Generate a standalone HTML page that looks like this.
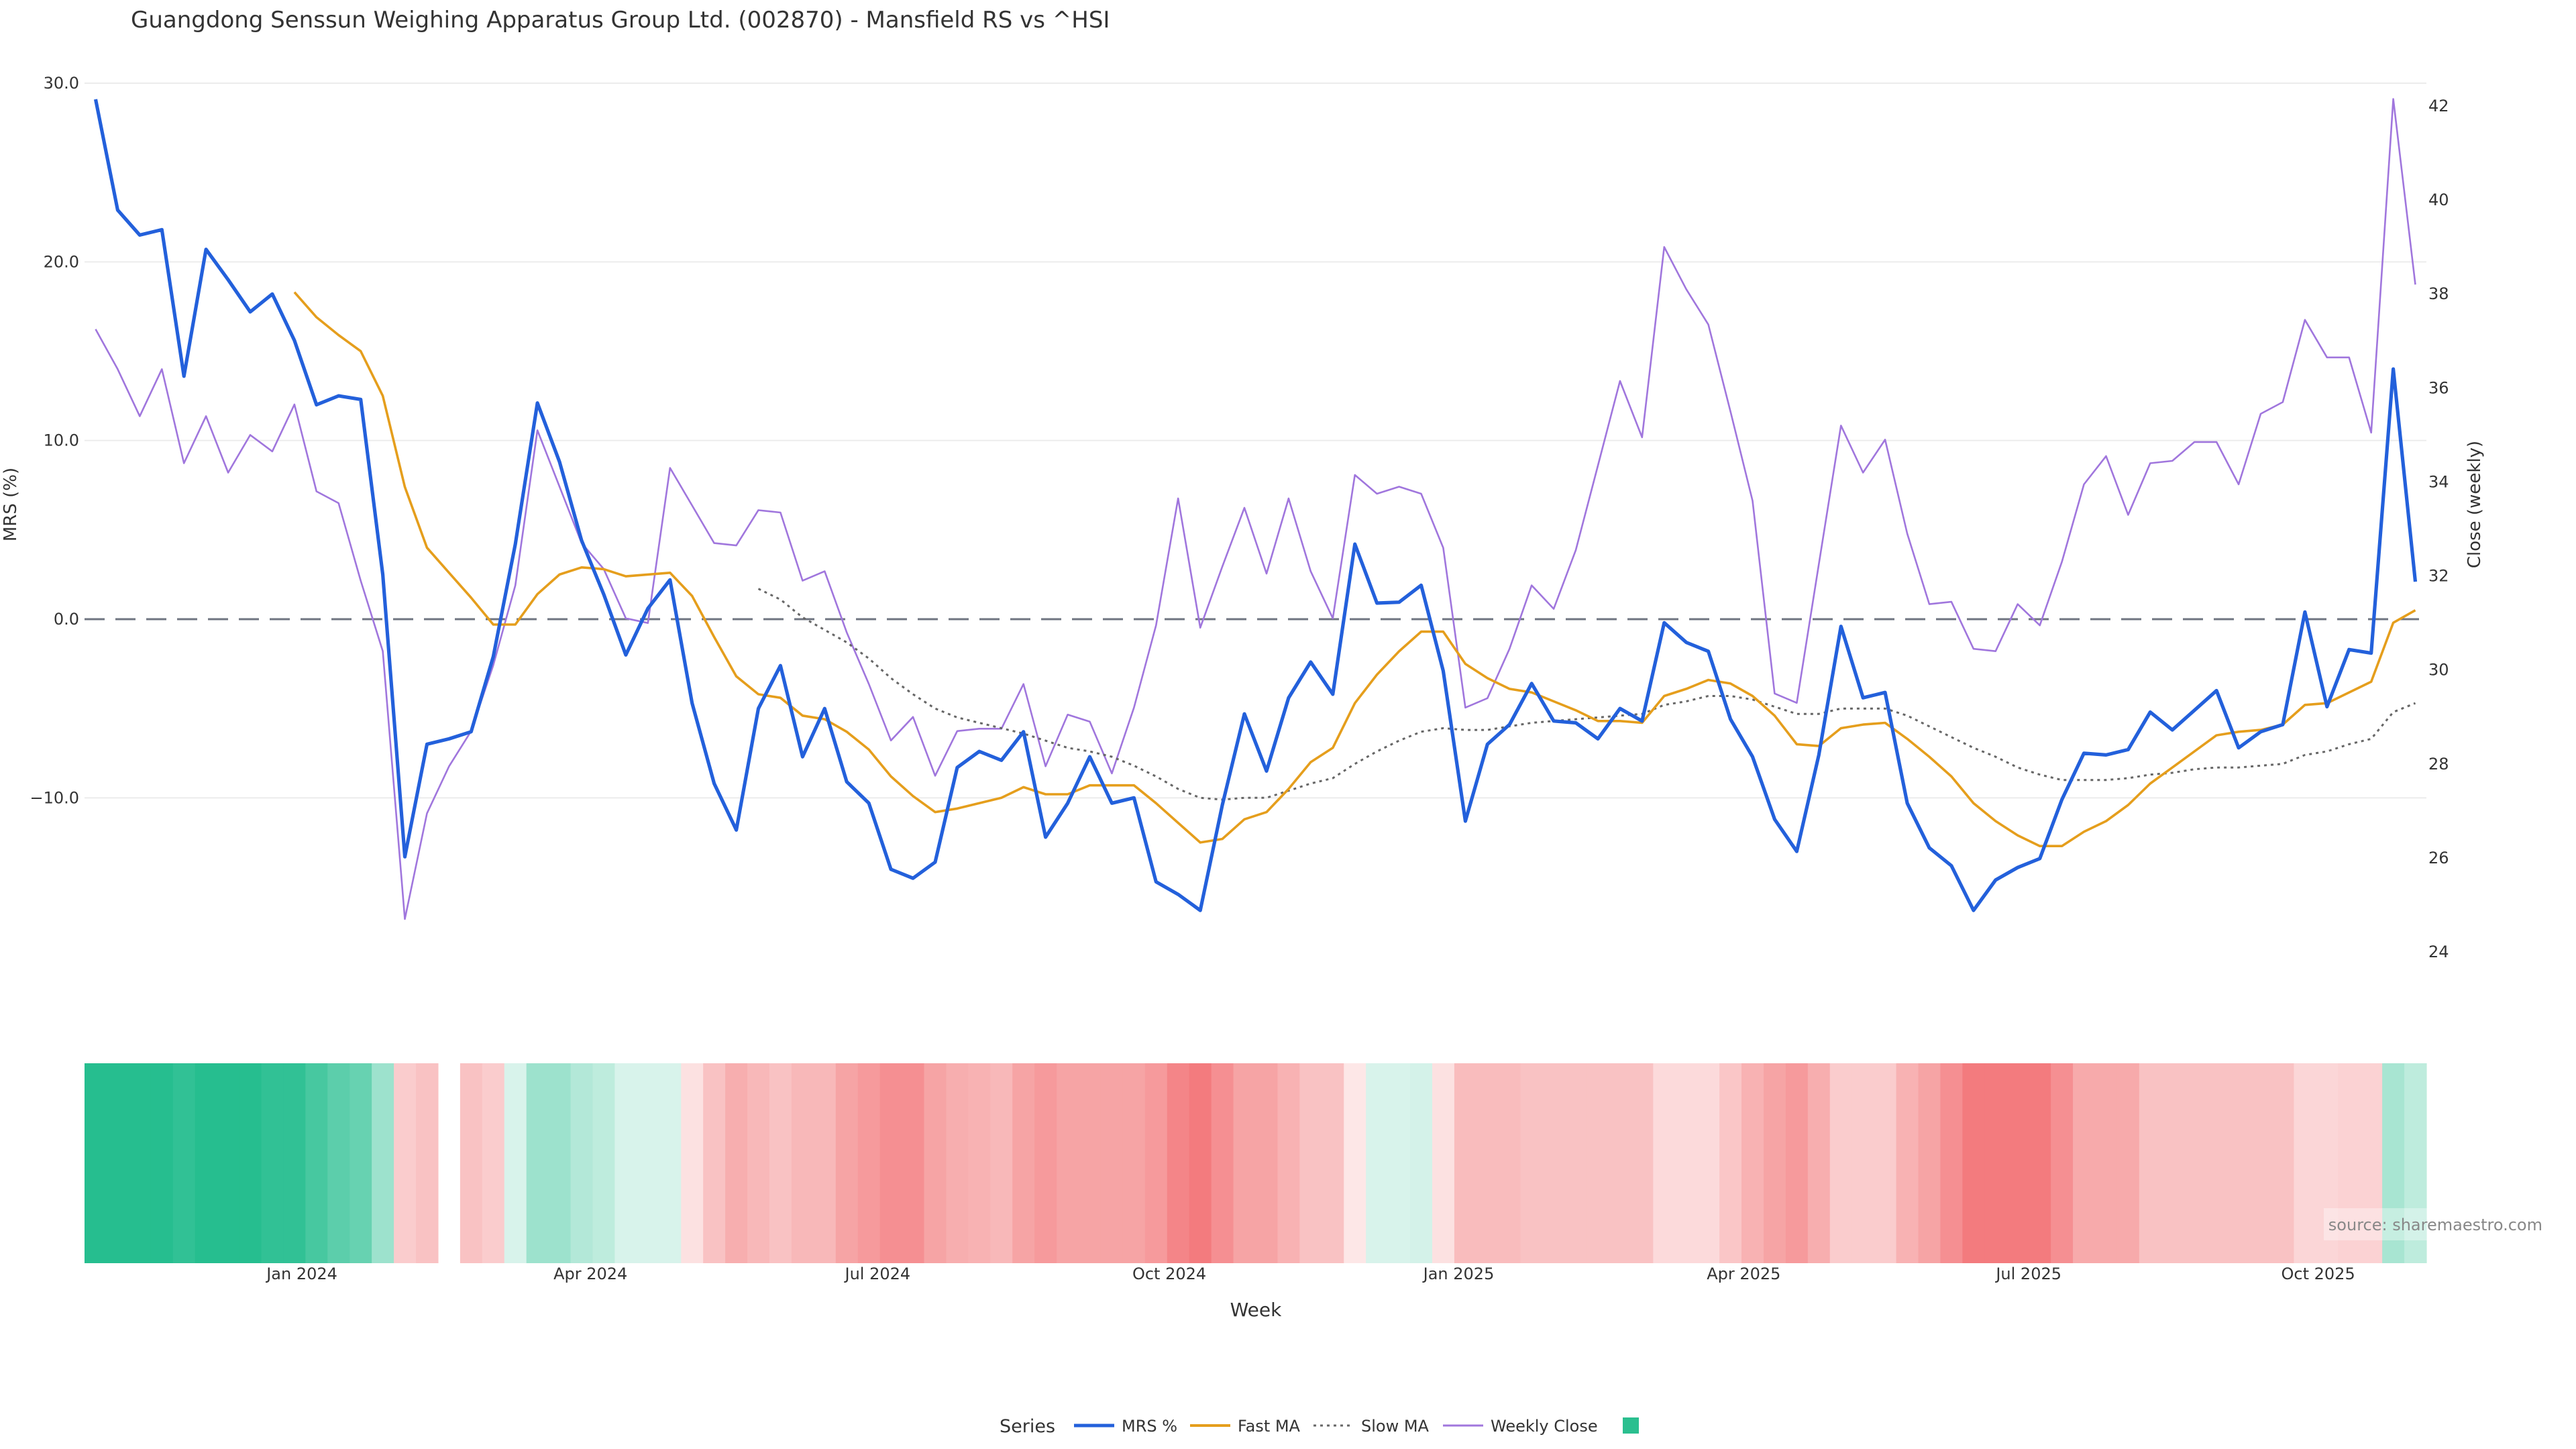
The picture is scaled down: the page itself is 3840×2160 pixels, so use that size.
<!DOCTYPE html>
<html><head><meta charset="utf-8"><title>Mansfield RS chart</title>
<style>
html,body{margin:0;padding:0;background:#fff;}
svg{display:block;font-family:"DejaVu Sans","Liberation Sans",sans-serif;}
</style></head>
<body>
<svg id="chart" xmlns="http://www.w3.org/2000/svg" width="3840" height="2160" viewBox="0 0 3840 2160">
<rect x="0" y="0" width="3840" height="2160" fill="#fff"/>
<text x="195" y="41" font-size="34" fill="#333">Guangdong Senssun Weighing Apparatus Group Ltd. (002870) - Mansfield RS vs ^HSI</text>
<g id="grid"></g>
<g id="heat"></g>
<g id="series"></g>
<g id="axes"></g>
<text transform="translate(24,752) rotate(-90)" text-anchor="middle" font-size="26" fill="#333">MRS (%)</text>
<text transform="translate(3697,752) rotate(-90)" text-anchor="middle" font-size="26" fill="#333">Close (weekly)</text>
<text x="1872" y="1962" text-anchor="middle" font-size="28" fill="#333">Week</text>
<rect x="3464" y="1801" width="326" height="48" fill="#fff" fill-opacity="0.35"/>
<text x="3790" y="1834" text-anchor="end" font-size="24" fill="#888">source: sharemaestro.com</text>
<g>
<text x="1490" y="2135" font-size="27" fill="#333">Series</text>
<g><line x1="1601" y1="2125" x2="1661" y2="2125" stroke="#2360db" stroke-width="5"/><text x="1672" y="2134" font-size="24" fill="#333">MRS %</text></g>
<g><line x1="1774" y1="2125" x2="1834" y2="2125" stroke="#e59e1c" stroke-width="4"/><text x="1845" y="2134" font-size="24" fill="#333">Fast MA</text></g>
<g><line x1="1958" y1="2125" x2="2013" y2="2125" stroke="#666" stroke-width="3" stroke-dasharray="4 6"/><text x="2029" y="2134" font-size="24" fill="#333">Slow MA</text></g>
<g><line x1="2151" y1="2125" x2="2211" y2="2125" stroke="#a076dd" stroke-width="3"/><text x="2222" y="2134" font-size="24" fill="#333">Weekly Close</text></g>
<rect x="2419" y="2113" width="24" height="24" fill="#2bbf8f"/>
</g>
</svg>
<script>
const mrs = [29.1,22.9,21.5,21.8,13.6,20.7,19.0,17.2,18.2,15.6,12.0,12.5,12.3,2.5,-13.3,-7.0,-6.7,-6.3,-2.1,4.2,12.1,8.8,4.4,1.4,-2.0,0.6,2.2,-4.7,-9.2,-11.8,-5.0,-2.6,-7.7,-5.0,-9.1,-10.3,-14.0,-14.5,-13.6,-8.3,-7.4,-7.9,-6.3,-12.2,-10.3,-7.7,-10.3,-10.0,-14.7,-15.4,-16.3,-10.4,-5.3,-8.5,-4.4,-2.4,-4.2,4.2,0.9,0.95,1.9,-2.9,-11.3,-7.0,-5.9,-3.6,-5.7,-5.8,-6.7,-5.0,-5.7,-0.2,-1.3,-1.8,-5.6,-7.7,-11.2,-13.0,-7.6,-0.4,-4.4,-4.1,-10.3,-12.8,-13.8,-16.3,-14.6,-13.9,-13.4,-10.1,-7.5,-7.6,-7.3,-5.2,-6.2,-5.1,-4.0,-7.2,-6.3,-5.9,0.4,-4.9,-1.7,-1.9,14.0,2.1];
const fastMA = [null,null,null,null,null,null,null,null,null,18.3,16.9,15.9,15.0,12.5,7.4,4.0,2.6,1.2,-0.3,-0.3,1.4,2.5,2.9,2.8,2.4,2.5,2.6,1.3,-1.0,-3.2,-4.2,-4.4,-5.4,-5.6,-6.3,-7.3,-8.8,-9.9,-10.8,-10.6,-10.3,-10.0,-9.4,-9.8,-9.8,-9.3,-9.3,-9.3,-10.3,-11.4,-12.5,-12.3,-11.2,-10.8,-9.5,-8.0,-7.2,-4.7,-3.1,-1.8,-0.7,-0.7,-2.5,-3.3,-3.9,-4.1,-4.6,-5.1,-5.7,-5.7,-5.8,-4.3,-3.9,-3.4,-3.6,-4.3,-5.4,-7.0,-7.1,-6.1,-5.9,-5.8,-6.7,-7.7,-8.8,-10.3,-11.3,-12.1,-12.7,-12.7,-11.9,-11.3,-10.4,-9.2,-8.3,-7.4,-6.5,-6.3,-6.2,-5.9,-4.8,-4.7,-4.1,-3.5,-0.2,0.5];
const slowMA = [null,null,null,null,null,null,null,null,null,null,null,null,null,null,null,null,null,null,null,null,null,null,null,null,null,null,null,null,null,null,1.7,1.1,0.1,-0.6,-1.3,-2.2,-3.3,-4.2,-5.0,-5.5,-5.8,-6.1,-6.4,-6.8,-7.2,-7.4,-7.7,-8.2,-8.8,-9.5,-10.0,-10.1,-10.0,-10.0,-9.6,-9.2,-8.9,-8.1,-7.4,-6.8,-6.3,-6.1,-6.2,-6.2,-6.0,-5.8,-5.7,-5.6,-5.5,-5.4,-5.3,-4.8,-4.6,-4.3,-4.3,-4.5,-4.9,-5.3,-5.3,-5.0,-5.0,-5.0,-5.4,-6.0,-6.6,-7.2,-7.7,-8.3,-8.7,-9.0,-9.0,-9.0,-8.9,-8.7,-8.6,-8.4,-8.3,-8.3,-8.2,-8.1,-7.6,-7.4,-7.0,-6.7,-5.2,-4.7];
const closeW = [37.25,36.4,35.4,36.4,34.4,35.4,34.2,35.0,34.65,35.65,33.8,33.55,31.9,30.4,24.7,26.95,27.95,28.7,30.1,31.8,35.1,33.9,32.7,32.15,31.1,31.0,34.3,33.5,32.7,32.65,33.4,33.35,31.9,32.1,30.8,29.7,28.5,29.0,27.75,28.7,28.75,28.75,29.7,27.95,29.05,28.9,27.8,29.2,30.95,33.65,30.9,32.2,33.45,32.05,33.65,32.1,31.1,34.15,33.75,33.9,33.75,32.6,29.2,29.4,30.45,31.8,31.3,32.55,34.35,36.15,34.95,39.0,38.1,37.35,35.5,33.6,29.5,29.3,32.25,35.2,34.2,34.9,32.9,31.4,31.45,30.45,30.4,31.4,30.95,32.3,33.95,34.55,33.3,34.4,34.45,34.85,34.85,33.95,35.45,35.7,37.45,36.65,36.65,35.05,42.15,38.2];
const heatScore = [1,1,1,1,0.95,1,1,1,0.95,0.95,0.85,0.75,0.7,0.45,-0.25,-0.3,null,-0.3,-0.25,0.18,0.45,0.45,0.35,0.3,0.18,0.18,0.18,-0.15,-0.3,-0.4,-0.35,-0.3,-0.35,-0.35,-0.45,-0.5,-0.55,-0.55,-0.45,-0.4,-0.38,-0.35,-0.45,-0.5,-0.45,-0.45,-0.45,-0.45,-0.5,-0.6,-0.65,-0.55,-0.45,-0.45,-0.38,-0.3,-0.3,-0.12,0.18,0.18,0.2,-0.15,-0.33,-0.33,-0.33,-0.3,-0.3,-0.3,-0.3,-0.3,-0.3,-0.18,-0.18,-0.18,-0.28,-0.38,-0.45,-0.5,-0.4,-0.25,-0.25,-0.25,-0.38,-0.45,-0.55,-0.65,-0.65,-0.65,-0.65,-0.55,-0.42,-0.42,-0.42,-0.3,-0.3,-0.3,-0.3,-0.3,-0.3,-0.3,-0.2,-0.2,-0.22,-0.22,0.4,0.3];
const leftTicks = [30,20,10,0,-10];
const leftTickLabels = ["30.0","20.0","10.0","0.0","\u221210.0"];
const rightTicks = [24,26,28,30,32,34,36,38,40,42];
const xTickLabels = ["Jan 2024","Apr 2024","Jul 2024","Oct 2024","Jan 2025","Apr 2025","Jul 2025","Oct 2025"];
const xTickWeeks = [9.34,22.4,35.4,48.6,61.7,74.6,87.5,100.6];

const NS = "http://www.w3.org/2000/svg";
const PX0 = 126, PX1 = 3617;
const n = mrs.length;
const band = (PX1 - PX0) / n;
function xOf(i){ return PX0 + band * (i + 0.5); }
function yL(v){ return 923 - (v / 30) * 799; }
function yR(v){ return 158 + (42 - v) * 70.06; }
function mk(tag, attrs, parent){
  const e = document.createElementNS(NS, tag);
  for (const k in attrs) e.setAttribute(k, attrs[k]);
  parent.appendChild(e);
  return e;
}
const grid = document.getElementById('grid');
const axes = document.getElementById('axes');
const series = document.getElementById('series');
const heat = document.getElementById('heat');

leftTicks.forEach((t, k) => {
  const y = yL(t);
  if (t === 0) {
    const l = mk('line', {x1:PX0, x2:PX1, y1:y, y2:y, stroke:'#6f7480', 'stroke-width':3, 'stroke-dasharray':'30 16'}, grid);
    
    
  } else {
    const l = mk('line', {x1:PX0, x2:PX1, y1:y, y2:y, stroke:'#ececec', 'stroke-width':2}, grid);
    
    
  }
  const tx = mk('text', {x:118, y:y + 8, 'text-anchor':'end', 'font-size':24, fill:'#333'}, axes);
  tx.textContent = leftTickLabels[k];
  
  
});
rightTicks.forEach(t => {
  const tx = mk('text', {x:3620, y:yR(t) + 8, 'font-size':24, fill:'#333'}, axes);
  tx.textContent = String(t);
  
  
});
xTickLabels.forEach((lab, k) => {
  const tx = mk('text', {x:xOf(xTickWeeks[k]), y:1907, 'text-anchor':'middle', 'font-size':24, fill:'#333'}, axes);
  tx.textContent = lab;
  
  
});

function heatColor(v){
  const t = Math.min(1, Math.abs(v));
  const base = v >= 0 ? [38,190,143] : [236,52,56];
  const c = base.map(b => Math.round(255 - t * (255 - b)));
  return 'rgb(' + c.join(',') + ')';
}
heatScore.forEach((v, i) => {
  if (v === null) return;
  const r = mk('rect', {x:PX0 + band * i, y:1585, width:band + 0.6, height:298, fill:heatColor(v)}, heat);
  
  
});

function pathFor(arr, yf){
  let d = '', pen = false;
  arr.forEach((v, i) => {
    if (v === null) { pen = false; return; }
    d += (pen ? 'L' : 'M') + xOf(i).toFixed(1) + ' ' + yf(v).toFixed(1) + ' ';
    pen = true;
  });
  return d;
}
const pClose = mk('path', {d:pathFor(closeW, yR), fill:'none', stroke:'#a076dd', 'stroke-width':2.6, 'stroke-linejoin':'round'}, series);


const pSlow = mk('path', {d:pathFor(slowMA, yL), fill:'none', stroke:'#666', 'stroke-width':3, 'stroke-dasharray':'4 6'}, series);


const pFast = mk('path', {d:pathFor(fastMA, yL), fill:'none', stroke:'#e59e1c', 'stroke-width':3.6, 'stroke-linejoin':'round'}, series);


const pMrs = mk('path', {d:pathFor(mrs, yL), fill:'none', stroke:'#2360db', 'stroke-width':5.2, 'stroke-linejoin':'round'}, series);


</script>
</body></html>
